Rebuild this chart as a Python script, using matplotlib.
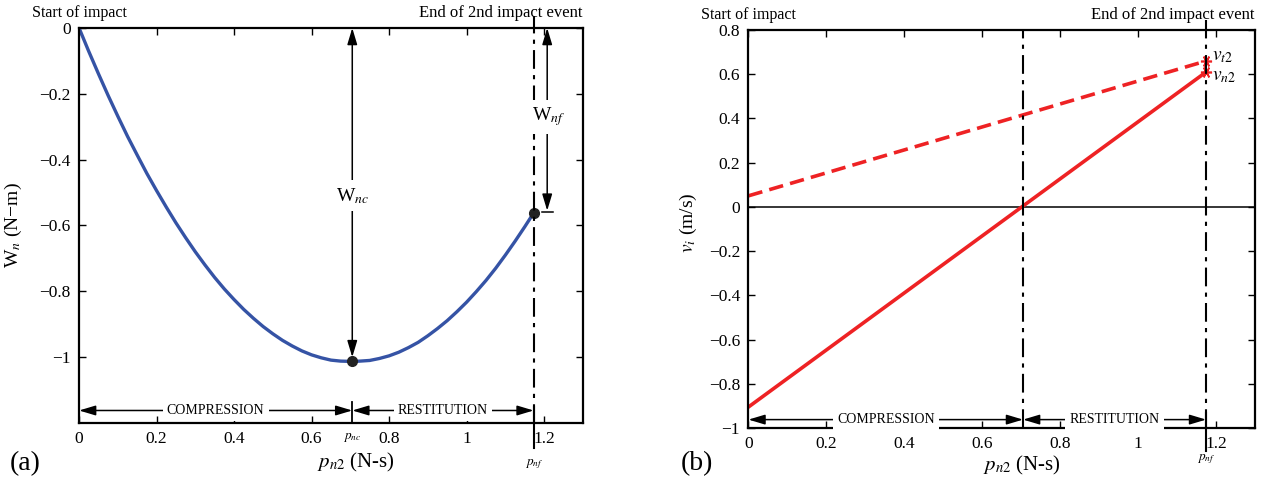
import matplotlib
matplotlib.use("Agg")
import matplotlib.pyplot as plt

plt.rcParams['font.family'] = ['Liberation Serif', 'DejaVu Serif']
plt.rcParams['mathtext.fontset'] = 'stix'

# (a) work done by the normal force vs normal impulse
p_a = [0.0, 0.025, 0.05, 0.075, 0.10, 0.125, 0.15, 0.175, 0.20, 0.225, 0.25,
       0.275, 0.30, 0.325, 0.35, 0.375, 0.40, 0.425, 0.45, 0.475, 0.50,
       0.525, 0.55, 0.575, 0.60, 0.625, 0.65, 0.675, 0.705, 0.725, 0.75,
       0.775, 0.80, 0.825, 0.85, 0.875, 0.90, 0.925, 0.95, 0.975, 1.00,
       1.025, 1.05, 1.075, 1.10, 1.125, 1.15, 1.173]
W_a = [0.0, -0.071, -0.139, -0.205, -0.268, -0.329, -0.386, -0.442, -0.494,
       -0.544, -0.592, -0.637, -0.680, -0.720, -0.758, -0.793, -0.825,
       -0.855, -0.882, -0.907, -0.929, -0.949, -0.966, -0.981, -0.993,
       -1.002, -1.009, -1.012, -1.013, -1.012, -1.010, -1.004, -0.996,
       -0.985, -0.971, -0.955, -0.935, -0.913, -0.889, -0.862, -0.833,
       -0.801, -0.767, -0.730, -0.690, -0.648, -0.604, -0.562]
p_nc = 0.705
p_nf = 1.173

# (b) velocities vs normal impulse
p_b = [0.0, 1.175]
v_n2 = [-0.905, 0.61]
v_t2 = [0.05, 0.66]
p_nc_b = 0.705
p_nf_b = 1.175

x_ticks = [0, 0.2, 0.4, 0.6, 0.8, 1.0, 1.2]
x_ticklabels = ['0', '0.2', '0.4', '0.6', '0.8', '1', '1.2']
ya_ticks = [0, -0.2, -0.4, -0.6, -0.8, -1.0]
ya_ticklabels = ['0', '\u22120.2', '\u22120.4', '\u22120.6', '\u22120.8', '\u22121']
yb_ticks = [0.8, 0.6, 0.4, 0.2, 0, -0.2, -0.4, -0.6, -0.8, -1.0]
yb_ticklabels = ['0.8', '0.6', '0.4', '0.2', '0', '\u22120.2', '\u22120.4',
                 '\u22120.6', '\u22120.8', '\u22121']

blue = '#3553a5'
red = '#ee2224'
dashdot = (0, (9, 3, 2, 3))


def style_axes(ax):
    for s in ax.spines.values():
        s.set_linewidth(1.6)
    ax.tick_params(direction='in', top=True, right=True, length=5, width=1,
                   labelsize=12.5, pad=6)


def arrow(ax, x0, y0, x1, y1, style='<|-|>'):
    ax.annotate('', xy=(x1, y1), xytext=(x0, y0),
                arrowprops=dict(arrowstyle=style + ',head_length=1.0,head_width=0.3',
                                color='black', lw=1.1, shrinkA=0, shrinkB=0))


fig = plt.figure(figsize=(12.69, 4.91), dpi=100)
ax1 = fig.add_axes([0.0623, 0.1385, 0.397, 0.8045])
ax2 = fig.add_axes([0.5898, 0.1283, 0.399, 0.8106])

# ---------- panel (a) ----------
ax1.plot(p_a, W_a, color=blue, lw=2.4)
ax1.plot([p_a[28], p_a[-1]], [W_a[28], W_a[-1]], 'o', color='#222222', ms=7)
ax1.plot([p_nf, p_nf], [-1.2, 0.035], color='black', lw=1.5, ls=dashdot, clip_on=False)
ax1.plot([p_nf, p_nf], [-1.15, -1.275], color='black', lw=1.5, clip_on=False)
ax1.plot([p_nc, p_nc], [-1.135, -1.2], color='black', lw=1.3)
ax1.set_xlim(0, 1.3)
ax1.set_ylim(-1.2, 0)
ax1.set_xticks(x_ticks, x_ticklabels)
ax1.set_yticks(ya_ticks, ya_ticklabels)
style_axes(ax1)

# W_nc arrow
arrow(ax1, p_nc, 0, p_nc, -1.0)
ax1.text(p_nc, -0.51, 'W$_{\\mathit{nc}}$', ha='center', va='center', fontsize=14,
         bbox=dict(facecolor='white', edgecolor='none', pad=4))
# W_nf arrow
arrow(ax1, 1.208, 0, 1.208, -0.555)
ax1.plot([1.195, 1.222], [-0.56, -0.56], color='black', lw=1.1)
ax1.text(1.212, -0.27, 'W$_{\\mathit{nf}}$', ha='center', va='center', fontsize=14,
         bbox=dict(facecolor='white', edgecolor='none', pad=4))
# phases
y_ph = -1.162
arrow(ax1, 0, y_ph, p_nc, y_ph)
arrow(ax1, p_nc, y_ph, p_nf, y_ph)
ax1.text(p_nc / 2, y_ph, 'COMPRESSION', ha='center', va='center', fontsize=10,
         bbox=dict(facecolor='white', edgecolor='none', pad=3))
ax1.text((p_nc + p_nf) / 2, y_ph, 'RESTITUTION', ha='center', va='center', fontsize=10,
         bbox=dict(facecolor='white', edgecolor='none', pad=3))
ax1.text(p_nc, -1.245, '$p_{nc}$', ha='center', va='center', fontsize=9.5)
ax1.text(p_nf, -1.325, '$p_{nf}$', ha='center', va='center', fontsize=9.5)

ax1.text(0, 0.045, 'Start of impact', ha='center', va='center', fontsize=11.5)
ax1.text(1.3, 0.045, 'End of 2nd impact event', ha='right', va='center', fontsize=12)
ax1.set_xlabel('$p_{\\mathit{n2}}$ (N-s)', fontsize=15)
ax1.xaxis.set_label_coords(0.55, -0.07)
ax1.set_ylabel('W$_{\\mathit{n}}$ (N\u2212m)', fontsize=14)
ax1.yaxis.set_label_coords(-0.11, 0.5)
fig.text(0.02, 0.055, '(a)', fontsize=20, ha='center', va='center')

# ---------- panel (b) ----------
ax2.axhline(0, color='black', lw=1.1)
ax2.plot(p_b, v_t2, color=red, lw=2.6, ls=(0, (4, 2)))
ax2.plot(p_b, v_n2, color=red, lw=2.6)
ax2.plot([p_b[-1], p_b[-1]], [v_t2[-1], v_n2[-1]], marker=(6, 2, 90), ls='none',
         color=red, ms=8, mew=1.2)
ax2.plot([p_nc_b, p_nc_b], [-1.0, 0.8], color='black', lw=1.5, ls=dashdot)
ax2.plot([p_nf_b, p_nf_b], [-1.0, 0.845], color='black', lw=1.5, ls=dashdot, clip_on=False)
ax2.plot([p_nf_b, p_nf_b], [-0.93, -1.105], color='black', lw=1.5, clip_on=False)
ax2.plot([p_nc_b, p_nc_b], [-0.93, -1.0], color='black', lw=1.3)
ax2.set_xlim(0, 1.3)
ax2.set_ylim(-1.0, 0.8)
ax2.set_xticks(x_ticks, x_ticklabels)
ax2.set_yticks(yb_ticks, yb_ticklabels)
style_axes(ax2)

ax2.text(1.19, 0.68, '$v_{\\mathit{t2}}$', ha='left', va='center', fontsize=14)
ax2.text(1.19, 0.59, '$v_{\\mathit{n2}}$', ha='left', va='center', fontsize=14)

yb_ph = -0.962
arrow(ax2, 0, yb_ph, p_nc_b, yb_ph)
arrow(ax2, p_nc_b, yb_ph, p_nf_b, yb_ph)
ax2.text(p_nc_b / 2, yb_ph, 'COMPRESSION', ha='center', va='center', fontsize=10,
         bbox=dict(facecolor='white', edgecolor='none', pad=3))
ax2.text((p_nc_b + p_nf_b) / 2, yb_ph, 'RESTITUTION', ha='center', va='center', fontsize=10,
         bbox=dict(facecolor='white', edgecolor='none', pad=3))
ax2.text(p_nf_b, -1.14, '$p_{nf}$', ha='center', va='center', fontsize=9.5)

ax2.text(0, 0.87, 'Start of impact', ha='center', va='center', fontsize=11.5)
ax2.text(1.3, 0.87, 'End of 2nd impact event', ha='right', va='center', fontsize=12)
ax2.set_xlabel('$p_{\\mathit{n2}}$ (N-s)', fontsize=15)
ax2.xaxis.set_label_coords(0.54, -0.065)
ax2.set_ylabel('$v_i$ (m/s)', fontsize=14)
ax2.yaxis.set_label_coords(-0.098, 0.515)
fig.text(0.549, 0.055, '(b)', fontsize=20, ha='center', va='center')

fig.savefig('out.png', dpi=100)
